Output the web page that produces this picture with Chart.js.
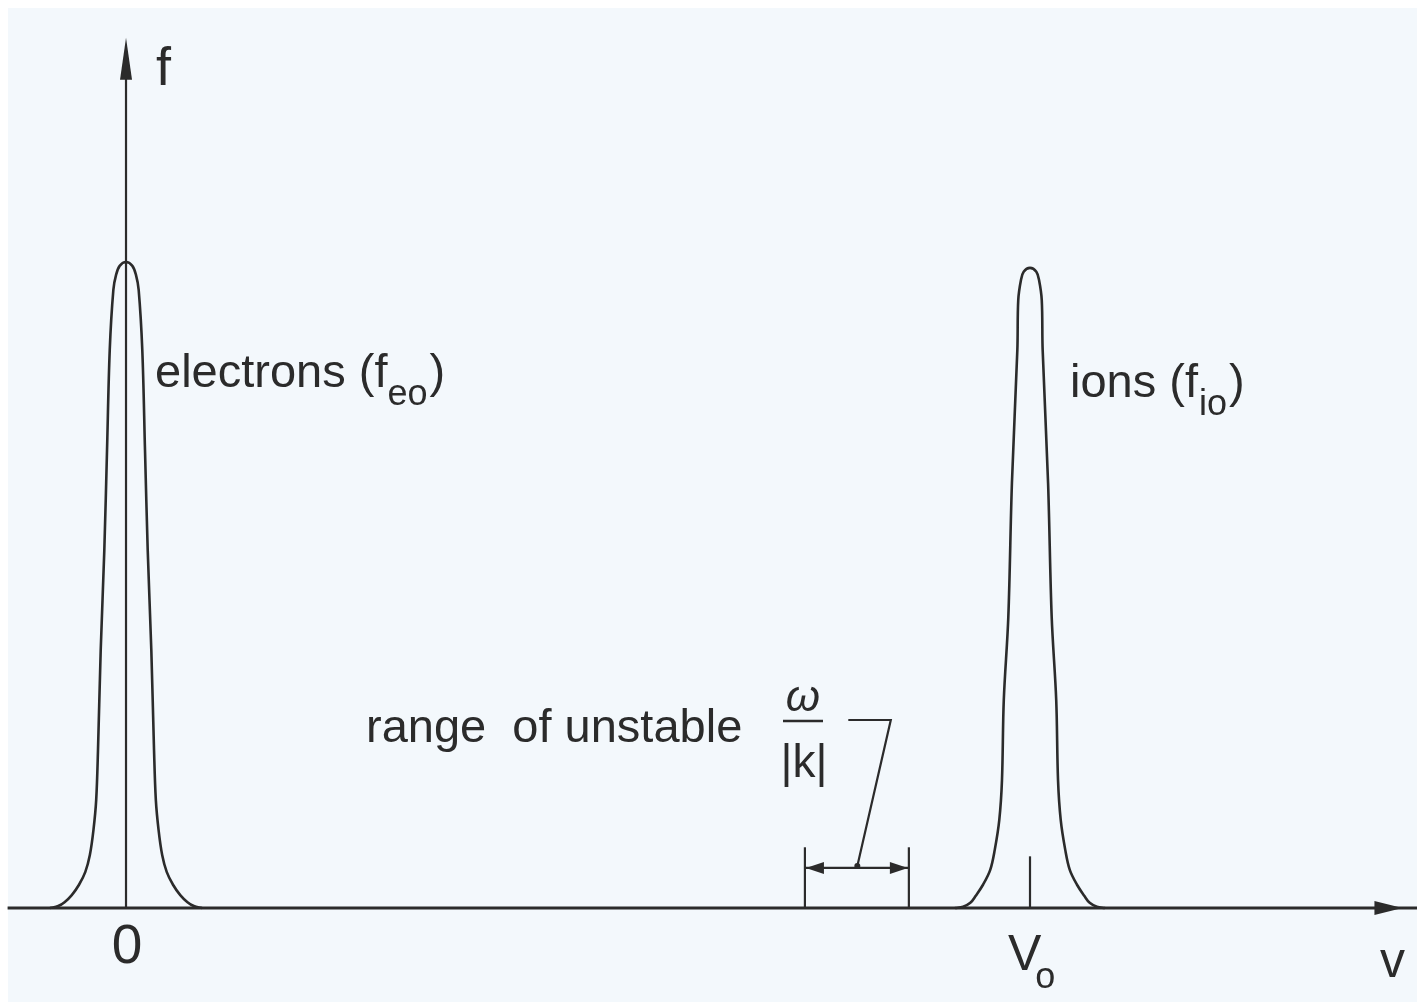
<!DOCTYPE html>
<html>
<head>
<meta charset="utf-8">
<script src="https://cdn.jsdelivr.net/npm/chart.js@4/dist/chart.umd.min.js"></script>
<style>
  html, body { margin: 0; padding: 0; background: #ffffff; }
  #wrap { width: 1417px; height: 1002px; }
</style>
</head>
<body>
<div id="wrap"><canvas id="c" width="1417" height="1002"></canvas></div>
<script>
// ---------- data (v in units of V0, f normalised to electron peak) ----------
const electronV = [-0.084,-0.075,-0.068,-0.060,-0.052,-0.045,-0.040,-0.036,-0.033,-0.031,-0.028,-0.024,-0.021,-0.018,-0.014,-0.011,-0.007,0,
                   0.007,0.011,0.014,0.018,0.021,0.024,0.028,0.031,0.033,0.036,0.040,0.045,0.052,0.060,0.068,0.075,0.084];
const electronF = [0,0.003,0.009,0.020,0.036,0.056,0.082,0.121,0.167,0.244,0.399,0.554,0.709,0.864,0.957,0.980,0.994,1.0,
                   0.994,0.980,0.957,0.864,0.709,0.554,0.399,0.244,0.167,0.121,0.082,0.056,0.036,0.020,0.009,0.003,0];
const ionV = [0.917,0.926,0.934,0.940,0.948,0.956,0.961,0.966,0.969,0.971,0.976,0.980,0.986,0.987,0.990,0.993,1.0,
              1.007,1.010,1.013,1.014,1.020,1.024,1.029,1.031,1.034,1.039,1.044,1.052,1.060,1.066,1.074,1.083];
const ionF = [0,0.002,0.008,0.019,0.036,0.059,0.090,0.136,0.198,0.322,0.450,0.658,0.864,0.941,0.972,0.985,0.991,
              0.985,0.972,0.941,0.864,0.658,0.450,0.322,0.198,0.136,0.090,0.059,0.036,0.019,0.008,0.002,0];
const V0 = 1;                         // ion drift velocity
const unstableRange = [0.751, 0.866]; // range of unstable omega/|k|
const axisV = [-0.131, 1.43];         // extent of the v axis
const axisFTop = 1.347;               // tip of the f axis arrow
const tickLabels = { origin: "0", drift: "V", driftSub: "o" };
const leaderV = [0.799, 0.846, 0.809];
const leaderF = [0.291, 0.291, 0.065];

const ink = '#2b2b2b';
const FONT = '"Liberation Sans", Arial, sans-serif';

const pts = (xs, ys) => xs.map((x, i) => ({ x: x, y: ys[i] }));

const bgPlugin = {
  id: 'bg',
  beforeDraw(chart) {
    const ctx = chart.ctx;
    ctx.save();
    ctx.fillStyle = '#ffffff';
    ctx.fillRect(0, 0, chart.width, chart.height);
    ctx.fillStyle = '#f3f8fc';
    ctx.fillRect(8, 8, chart.width - 8, chart.height - 8);
    ctx.restore();
  }
};

function drawRuns(ctx, x, y, runs) {
  let cx = x;
  runs.forEach(r => {
    ctx.font = r.size + 'px ' + FONT;
    ctx.fillText(r.t, cx, y + (r.dy || 0));
    cx += ctx.measureText(r.t).width + (r.gap || 0);
  });
}

function arrowHead(ctx, tipX, tipY, dirX, dirY, len, half) {
  const bx = tipX - dirX * len, by = tipY - dirY * len;
  const px = -dirY, py = dirX;
  ctx.beginPath();
  ctx.moveTo(tipX, tipY);
  ctx.lineTo(bx + px * half, by + py * half);
  ctx.lineTo(bx - px * half, by - py * half);
  ctx.closePath();
  ctx.fill();
}

const annoPlugin = {
  id: 'anno',
  afterDatasetsDraw(chart) {
    const ctx = chart.ctx;
    const xs = chart.scales.x, ys = chart.scales.y;
    const X = v => xs.getPixelForValue(v);
    const Y = f => ys.getPixelForValue(f);
    ctx.save();
    ctx.fillStyle = ink;
    ctx.strokeStyle = ink;

    // f axis arrow head
    arrowHead(ctx, X(0), Y(axisFTop), 0, -1, 42, 6);
    // v axis arrow head
    arrowHead(ctx, X(1.412), Y(0), 1, 0, 28, 7);
    // range arrows
    const ra = Y(0.062);
    arrowHead(ctx, X(unstableRange[0]) + 1, ra, -1, 0, 18, 6);
    arrowHead(ctx, X(unstableRange[1]) - 1, ra, 1, 0, 18, 6);
    ctx.beginPath(); ctx.arc(X(leaderV[2]), Y(leaderF[2]), 3, 0, Math.PI * 2); ctx.fill();

    ctx.textBaseline = 'alphabetic';
    ctx.textAlign = 'left';
    ctx.font = '54px ' + FONT;
    ctx.fillText('f', 156, 85);
    drawRuns(ctx, 155, 387, [
      { t: 'electrons (f', size: 47 },
      { t: 'eo', size: 36, dy: 18, gap: 2 },
      { t: ')', size: 47 }
    ]);
    drawRuns(ctx, 1070, 397, [
      { t: 'ions (f', size: 47, gap: 1 },
      { t: 'io', size: 36, dy: 18, gap: 2 },
      { t: ')', size: 47 }
    ]);
    ctx.font = '47px ' + FONT;
    ctx.fillText('range  of unstable', 366, 742);
    ctx.textAlign = 'center';
    ctx.font = 'italic 44px ' + FONT;
    ctx.fillText('\u03c9', 803, 711);
    ctx.lineWidth = 2.5;
    ctx.beginPath(); ctx.moveTo(783, 721); ctx.lineTo(823, 721); ctx.stroke();
    ctx.font = '46px ' + FONT;
    ctx.fillText('|k|', 804, 777);
    ctx.font = '55px ' + FONT;
    ctx.fillText(tickLabels.origin, X(0) + 1, 963);
    ctx.textAlign = 'left';
    drawRuns(ctx, X(V0) - 22, 970, [
      { t: tickLabels.drift, size: 50, gap: -6 },
      { t: tickLabels.driftSub, size: 36, dy: 18 }
    ]);
    ctx.font = '50px ' + FONT;
    ctx.fillText('v', 1380, 977);
    ctx.restore();
  }
};

const lineDS = (data, w) => ({
  data: data, showLine: true, borderColor: ink, borderWidth: w,
  pointRadius: 0, fill: false, tension: 0
});

new Chart(document.getElementById('c'), {
  type: 'scatter',
  data: {
    datasets: [
      Object.assign(lineDS(pts(electronV, electronF), 2.6), { tension: 0.35 }),
      Object.assign(lineDS(pts(ionV, ionF), 2.6), { tension: 0.35 }),
      lineDS([{ x: axisV[0], y: 0 }, { x: axisV[1], y: 0 }], 3),
      lineDS([{ x: 0, y: 0 }, { x: 0, y: 1.29 }], 2.2),
      lineDS([{ x: V0, y: 0 }, { x: V0, y: 0.08 }], 2.2),
      lineDS([{ x: unstableRange[0], y: 0 }, { x: unstableRange[0], y: 0.094 }], 2.2),
      lineDS([{ x: unstableRange[1], y: 0 }, { x: unstableRange[1], y: 0.094 }], 2.2),
      lineDS([{ x: unstableRange[0], y: 0.062 }, { x: unstableRange[1], y: 0.062 }], 2.2),
      lineDS(pts(leaderV, leaderF), 2.2)
    ]
  },
  options: {
    responsive: false,
    animation: false,
    devicePixelRatio: 1,
    layout: { padding: 0 },
    plugins: { legend: { display: false }, tooltip: { enabled: false } },
    scales: {
      x: { type: 'linear', display: false, min: -0.1394, max: 1.4281 },
      y: { type: 'linear', display: false, min: -0.1455, max: 1.4056 }
    }
  },
  plugins: [bgPlugin, annoPlugin]
});
</script>
</body>
</html>
